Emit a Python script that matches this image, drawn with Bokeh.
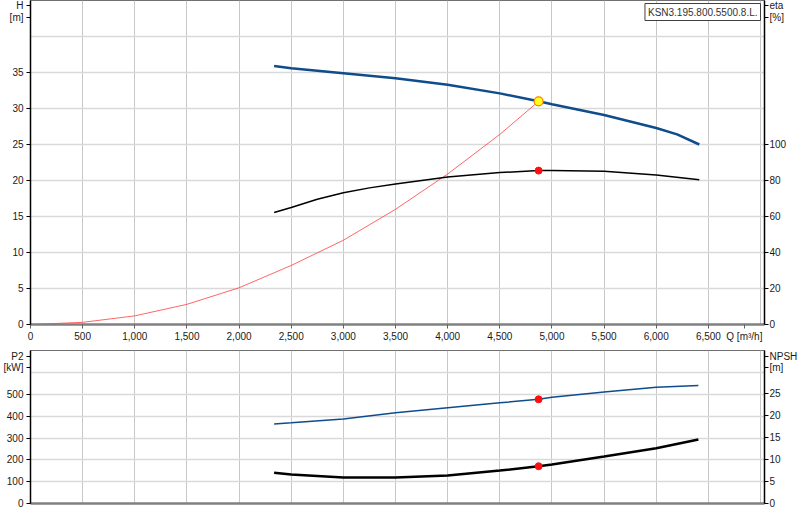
from bokeh.plotting import figure
from bokeh.layouts import column
from bokeh.models import Range1d, LinearAxis, FixedTicker, Label
from bokeh.embed import file_html
from bokeh.resources import INLINE

# ---------------- data ----------------
pump_name = "KSN3.195.800.5500.8.L."

q_head = [2336, 2500, 3000, 3500, 4000, 4500, 4872, 5000, 5500, 6000, 6200, 6413]
head_m = [35.9, 35.6, 34.9, 34.2, 33.3, 32.1, 31.0, 30.6, 29.1, 27.3, 26.4, 25.0]

q_eta = [2336, 2500, 2750, 3000, 3250, 3500, 4000, 4500, 4872, 5000, 5500, 6000, 6413]
eta_pct = [62.2, 65.0, 69.6, 73.2, 75.9, 78.1, 81.9, 84.4, 85.5, 85.6, 85.2, 83.0, 80.4]

q_sys = [0, 500, 1000, 1500, 2000, 2500, 3000, 3500, 4000, 4500, 4872]
h_sys = [0.0, 0.3, 1.2, 2.8, 5.1, 8.2, 11.7, 16.0, 20.9, 26.4, 31.0]

q_low = [2336, 2500, 3000, 3500, 4000, 4500, 4872, 5000, 5500, 6000, 6404]
p2_kw = [365, 370, 388, 416, 439, 462, 478, 487, 512, 533, 541]
npsh_m = [7.0, 6.6, 5.95, 5.9, 6.4, 7.5, 8.5, 8.9, 10.7, 12.6, 14.6]

duty_q = [4872]
duty_h = [31.0]
duty_eta = [85.5]
duty_p2 = [478]
duty_npsh = [8.5]

x_ticks = [0, 500, 1000, 1500, 2000, 2500, 3000, 3500, 4000, 4500, 5000, 5500, 6000, 6500]
x_tick_labels = ["0", "500", "1,000", "1,500", "2,000", "2,500", "3,000", "3,500",
                 "4,000", "4,500", "5,000", "5,500", "6,000", "6,500"]
x_grid = [0, 500, 1000, 1500, 2000, 2500, 3000, 3500, 4000, 4500, 5000, 5500, 6000, 6500, 7000]
h_ticks = [0, 5, 10, 15, 20, 25, 30, 35]
h_grid = [0, 5, 10, 15, 20, 25, 30, 35, 40]
eta_ticks = [0, 20, 40, 60, 80, 100]
p2_ticks = [0, 100, 200, 300, 400, 500]
p2_grid = [0, 100, 200, 300, 400, 500, 600]
npsh_ticks = [0, 5, 10, 15, 20, 25]

# axis titles (drawn as extra tick labels of each axis)
q_title = "Q [m\u00b3/h]"
h_title = ["H", "[m]"]
eta_title = ["eta", "[%]"]
p2_title = ["P2", "[kW]"]
npsh_title = ["NPSH", "[m]"]

# ---------------- style ----------------
FONT = "Liberation Sans"
FS = "10px"
TXT = "#1a1a1a"
BLUE = "#0f4c8c"
GRID_H = "#d9d9d9"
GRID_V = "#c8c8c8"

X_END = 7038
W = 800


def style_axis(ax, line_color="black", line_width=1.5, tick_out=4, standoff=3):
    ax.axis_label = None
    ax.axis_line_color = line_color
    ax.axis_line_width = line_width
    ax.major_tick_line_color = line_color
    ax.major_tick_out = tick_out
    ax.major_tick_in = 0
    ax.minor_tick_line_color = None
    ax.major_label_standoff = standoff
    ax.major_label_text_font = FONT
    ax.major_label_text_font_size = FS
    ax.major_label_text_color = TXT


def titled(ticks, title_pos, titles):
    allt = list(ticks) + list(title_pos)
    ov = {t: str(t) for t in ticks}
    ov.update({t: s for t, s in zip(title_pos, titles)})
    return allt, ov


# ---------------- top panel ----------------
p1 = figure(width=W, height=344, output_backend="svg", toolbar_location=None,
            x_range=Range1d(0, X_END), y_range=Range1d(0, 45),
            min_border_left=30, min_border_right=36, min_border_top=0,
            min_border_bottom=20, background_fill_color="white",
            border_fill_color="white", outline_line_color="#707070")
p1.extra_y_ranges = {"eta": Range1d(0, 180)}

xt = x_ticks + [6845]
xo = {t: s for t, s in zip(x_ticks, x_tick_labels)}
xo[6845] = q_title
p1.xaxis.ticker = FixedTicker(ticks=xt)
p1.xaxis.major_label_overrides = xo
style_axis(p1.xaxis[0], line_color="#808080", line_width=2.5, tick_out=4, standoff=2)
p1.xaxis.major_tick_line_color = "#606060"

ht, ho = titled(h_ticks, [44.3, 42.6], h_title)
p1.yaxis.ticker = FixedTicker(ticks=ht)
p1.yaxis.major_label_overrides = ho
style_axis(p1.yaxis[0])

et, eo = titled(eta_ticks, [177.2, 170.4], eta_title)
ax_eta = LinearAxis(y_range_name="eta", ticker=FixedTicker(ticks=et))
ax_eta.major_label_overrides = eo
style_axis(ax_eta, standoff=1)
p1.add_layout(ax_eta, "right")

p1.xgrid.ticker = FixedTicker(ticks=x_grid)
p1.xgrid.grid_line_color = GRID_V
p1.xgrid.grid_line_width = 1
p1.ygrid.ticker = FixedTicker(ticks=h_grid)
p1.ygrid.grid_line_color = GRID_H
p1.ygrid.grid_line_width = 1.5

p1.line(q_sys, h_sys, line_color="#ff4040", line_width=1, line_alpha=0.8)
p1.line(q_head, head_m, line_color=BLUE, line_width=2.5)
p1.line(q_eta, eta_pct, line_color="black", line_width=1.5, y_range_name="eta")
p1.scatter(duty_q, duty_eta, size=7, fill_color="#ff1010", line_color="#ff1010",
           y_range_name="eta")
p1.scatter(duty_q, duty_h, size=9, fill_color="#ffff20", line_color="#ff7a00",
           line_width=1.2)

p1.add_layout(Label(x=760, y=3, x_units="canvas", y_units="canvas", text=pump_name,
                    text_font=FONT, text_font_size=FS, text_color="#333333",
                    text_align="right", text_baseline="top",
                    background_fill_color="white", border_line_color="#404040",
                    border_line_width=1, padding=3))

# ---------------- bottom panel ----------------
p2 = figure(width=W, height=168, output_backend="svg", toolbar_location=None,
            x_range=p1.x_range, y_range=Range1d(0, 702),
            min_border_left=30, min_border_right=36, min_border_top=6,
            min_border_bottom=9, background_fill_color="white",
            border_fill_color="white", outline_line_color="#707070")
p2.extra_y_ranges = {"npsh": Range1d(0, 34.87)}

p2.xaxis.ticker = FixedTicker(ticks=[])
style_axis(p2.xaxis[0], line_color="#808080", line_width=2.5, tick_out=0)

pt, po = titled(p2_ticks, [676, 625], p2_title)
p2.yaxis.ticker = FixedTicker(ticks=pt)
p2.yaxis.major_label_overrides = po
style_axis(p2.yaxis[0])

nt, no = titled(npsh_ticks, [33.6, 31.1], npsh_title)
ax_npsh = LinearAxis(y_range_name="npsh", ticker=FixedTicker(ticks=nt))
ax_npsh.major_label_overrides = no
style_axis(ax_npsh, standoff=1)
p2.add_layout(ax_npsh, "right")

p2.xgrid.ticker = FixedTicker(ticks=x_grid)
p2.xgrid.grid_line_color = GRID_V
p2.xgrid.grid_line_width = 1
p2.ygrid.ticker = FixedTicker(ticks=p2_grid)
p2.ygrid.grid_line_color = GRID_H
p2.ygrid.grid_line_width = 1.5

p2.line(q_low, p2_kw, line_color=BLUE, line_width=1.5)
p2.line(q_low, npsh_m, line_color="black", line_width=2.5, y_range_name="npsh")
p2.scatter(duty_q, duty_p2, size=7, fill_color="#ff1010", line_color="#ff1010")
p2.scatter(duty_q, duty_npsh, size=7, fill_color="#ff1010", line_color="#ff1010",
           y_range_name="npsh")

layout = column(p1, p2, spacing=0)

with open("out.html", "w") as f:
    f.write(file_html(layout, INLINE))
